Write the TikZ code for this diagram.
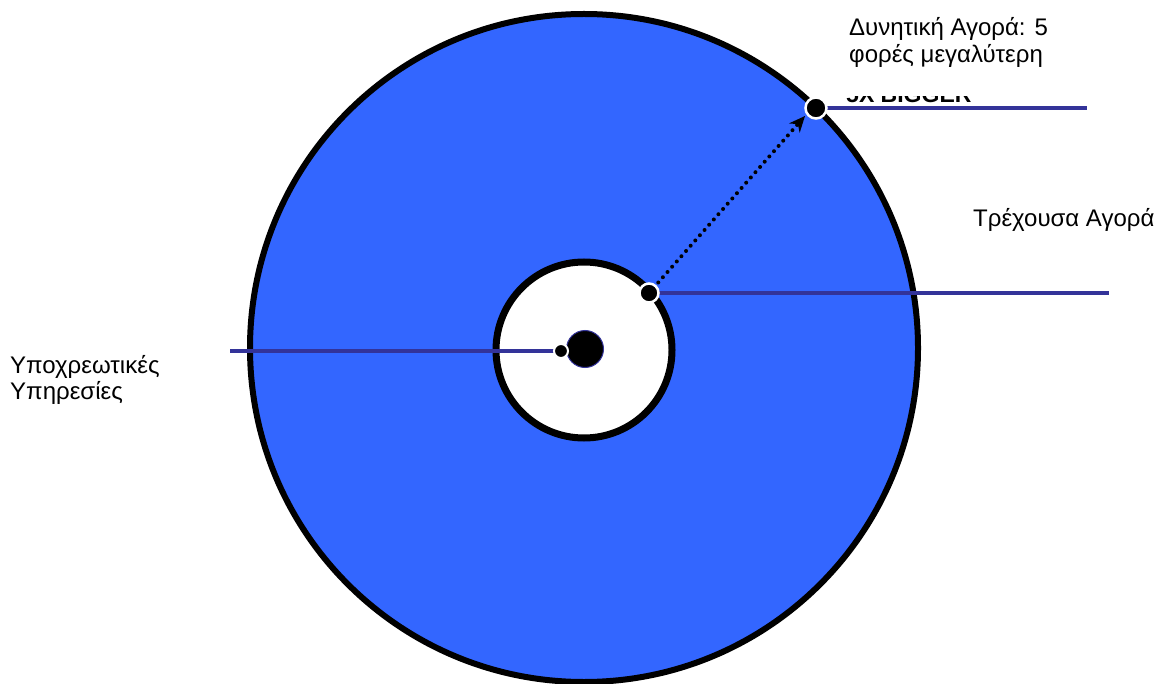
\documentclass[tikz,border=0pt]{standalone}
\usepackage{fontspec}
\setmainfont{Liberation Sans}
\usetikzlibrary{arrows.meta}
\definecolor{ringblue}{HTML}{3366FF}
\definecolor{leadblue}{HTML}{333399}
\tikzset{
  ring/.style={circle, draw=black, inner sep=0pt},
  leader/.style={draw=leadblue, line width=4pt},
  marker/.style={circle, fill=black, draw=white, line width=2.5pt, inner sep=0pt},
  lbl/.style={font=\fontsize{24pt}{27pt}\selectfont, inner sep=0pt, text=black, align=left},
  growth/.style={line width=4pt, dash pattern=on 0pt off 7pt, line cap=round, -{Stealth[length=16pt,width=14pt]}}
}
\begin{document}
\begin{tikzpicture}[x=1pt,y=-1pt]
\useasboundingbox (0,0) rectangle (1158,684);
% rings
\node[ring, fill=ringblue, line width=6pt, minimum size=668pt] (outer) at (584,348) {};
\node[ring, fill=white, line width=7pt, minimum size=176pt] (inner) at (584,350) {};
% hidden old label fragment
\begin{scope}
\clip (835,96.5) rectangle (990,104);
\node[font=\bfseries\fontsize{23pt}{27pt}\selectfont, inner sep=0pt, anchor=base west] (old) at (846,103) {5X BIGGER};
\end{scope}
% points
\coordinate (pout) at (816,108);
\coordinate (pin) at (649,293);
\coordinate (pcore) at (561,351);
\coordinate (eout) at (1087,108);
\coordinate (ein) at (1109,293);
\coordinate (ecore) at (230,351);
\coordinate (tip) at (805,116);
% leaders
\draw[leader] (pout) -- (eout);
\draw[leader] (pin) -- (ein);
\draw[leader] (ecore) -- (pcore);
% growth arrow
\draw[growth] (pin) -- (tip);
% core
\node[circle, fill=black, draw=leadblue, line width=1pt, minimum size=37pt, inner sep=0pt] (core) at (585,349) {};
% markers
\node[marker, minimum size=21pt] (mout) at (pout) {};
\node[marker, minimum size=19pt] (min) at (pin) {};
\node[marker, minimum size=14pt, line width=2pt] (mcore) at (pcore) {};
% labels
\node[lbl, anchor=base west] (lpot1) at (849,36) {Δυνητική Αγορά: 5};
\node[lbl, anchor=base west] (lpot2) at (849,63) {φορές μεγαλύτερη};
\node[lbl, anchor=base west] (lcur) at (973,227) {Τρέχουσα Αγορά};
\node[lbl, anchor=base west] (lreq1) at (10,373) {Υποχρεωτικές};
\node[lbl, anchor=base west] (lreq2) at (10,399) {Υπηρεσίες};
\end{tikzpicture}
\end{document}
